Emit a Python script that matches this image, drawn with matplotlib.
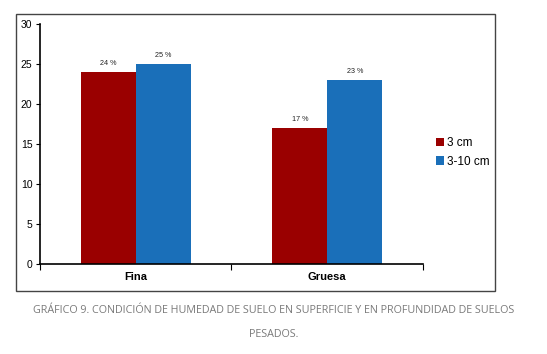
import matplotlib
matplotlib.use("Agg")
import matplotlib.pyplot as plt
from matplotlib.patches import Rectangle
import numpy as np

plt.rcParams['font.family'] = ['Liberation Sans', 'DejaVu Sans']

# data
categories = ["Fina", "Gruesa"]
series_names = ["3 cm", "3-10 cm"]
vals_3cm = [24, 17]
vals_3_10cm = [25, 23]
colors = ["#9A0000", "#1A6FB9"]

fig = plt.figure(figsize=(5.47, 3.54), dpi=100)

# outer frame of the chart
fig.patches.append(Rectangle((0.0293, 0.178), 0.8757, 0.782, transform=fig.transFigure,
                             fill=False, edgecolor="#444444", linewidth=1.0))

ax = fig.add_axes([0.0731, 0.2542, 0.7002, 0.678])

x = np.arange(len(categories))
w = 0.287
b1 = ax.bar(x - w / 2, vals_3cm, w, color=colors[0], label=series_names[0])
b2 = ax.bar(x + w / 2, vals_3_10cm, w, color=colors[1], label=series_names[1])

for bars, vals in [(b1, vals_3cm), (b2, vals_3_10cm)]:
    for r, v in zip(bars, vals):
        ax.text(r.get_x() + r.get_width() / 2, v + 0.6, f"{v} %", ha="center", va="bottom",
                fontsize=5.2, color="#222222")

ax.set_xlim(-0.5, 1.5)
ax.set_ylim(0, 30)
ax.set_yticks(range(0, 31, 5))
ax.tick_params(axis="y", labelsize=7.5, length=3, direction="out", pad=2.5)

# category ticks sit on the boundaries, labels in the middle
ax.set_xticks([-0.5, 0.5, 1.5])
ax.set_xticklabels([])
ax.set_xticks(x, minor=True)
ax.set_xticklabels(categories, minor=True, fontweight="bold", fontsize=8)
ax.tick_params(axis="x", which="major", length=4, direction="out")
ax.tick_params(axis="x", which="minor", length=0, pad=6)

for s in ["top", "right"]:
    ax.spines[s].set_visible(False)
ax.spines["left"].set_linewidth(1.2)
ax.spines["bottom"].set_linewidth(1.2)

ax.legend(loc="center left", bbox_to_anchor=(1.005, 0.465), frameon=False, fontsize=8.5,
          handlelength=0.7, handleheight=0.7, handletextpad=0.3, labelspacing=0.55)

fig.text(0.5, 0.124, "GRÁFICO 9. CONDICIÓN DE HUMEDAD DE SUELO EN SUPERFICIE Y EN PROFUNDIDAD DE SUELOS",
         ha="center", va="center", fontsize=7.75, color="#7a7a7a", family="Open Sans")
fig.text(0.5, 0.056, "PESADOS.", ha="center", va="center", fontsize=7.75, color="#7a7a7a",
         family="Open Sans")

fig.savefig("out.png", dpi=100)
